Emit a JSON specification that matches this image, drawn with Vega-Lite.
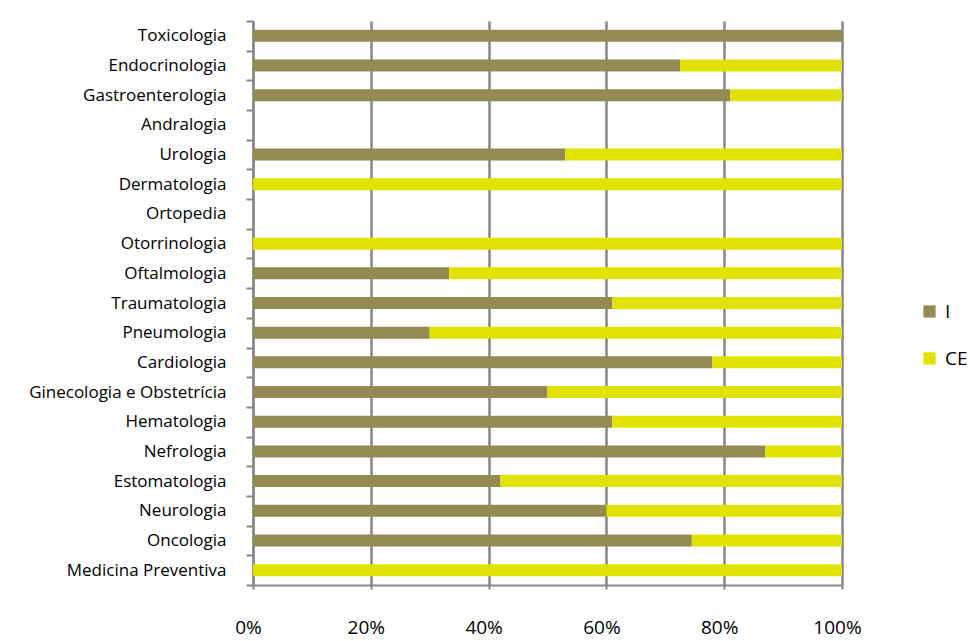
{
  "$schema": "https://vega.github.io/schema/vega-lite/v6.json",
  "autosize": "none",
  "width": 589,
  "height": 564,
  "padding": {"left": 253, "top": 21, "right": 128, "bottom": 56},
  "background": "white",
  "config": {"view": {"stroke": null}, "font": "Open Sans"},
  "data": {"values": [
    {"especialidade": "Toxicologia", "serie": "I", "valor": 1.0},
    {"especialidade": "Toxicologia", "serie": "CE", "valor": 0.0},
    {"especialidade": "Endocrinologia", "serie": "I", "valor": 0.725},
    {"especialidade": "Endocrinologia", "serie": "CE", "valor": 0.275},
    {"especialidade": "Gastroenterologia", "serie": "I", "valor": 0.81},
    {"especialidade": "Gastroenterologia", "serie": "CE", "valor": 0.19},
    {"especialidade": "Andralogia", "serie": "I", "valor": 0.0},
    {"especialidade": "Andralogia", "serie": "CE", "valor": 0.0},
    {"especialidade": "Urologia", "serie": "I", "valor": 0.53},
    {"especialidade": "Urologia", "serie": "CE", "valor": 0.47},
    {"especialidade": "Dermatologia", "serie": "I", "valor": 0.0},
    {"especialidade": "Dermatologia", "serie": "CE", "valor": 1.0},
    {"especialidade": "Ortopedia", "serie": "I", "valor": 0.0},
    {"especialidade": "Ortopedia", "serie": "CE", "valor": 0.0},
    {"especialidade": "Otorrinologia", "serie": "I", "valor": 0.0},
    {"especialidade": "Otorrinologia", "serie": "CE", "valor": 1.0},
    {"especialidade": "Oftalmologia", "serie": "I", "valor": 0.333},
    {"especialidade": "Oftalmologia", "serie": "CE", "valor": 0.667},
    {"especialidade": "Traumatologia", "serie": "I", "valor": 0.61},
    {"especialidade": "Traumatologia", "serie": "CE", "valor": 0.39},
    {"especialidade": "Pneumologia", "serie": "I", "valor": 0.30},
    {"especialidade": "Pneumologia", "serie": "CE", "valor": 0.70},
    {"especialidade": "Cardiologia", "serie": "I", "valor": 0.78},
    {"especialidade": "Cardiologia", "serie": "CE", "valor": 0.22},
    {"especialidade": "Ginecologia e Obstetrícia", "serie": "I", "valor": 0.50},
    {"especialidade": "Ginecologia e Obstetrícia", "serie": "CE", "valor": 0.50},
    {"especialidade": "Hematologia", "serie": "I", "valor": 0.61},
    {"especialidade": "Hematologia", "serie": "CE", "valor": 0.39},
    {"especialidade": "Nefrologia", "serie": "I", "valor": 0.87},
    {"especialidade": "Nefrologia", "serie": "CE", "valor": 0.13},
    {"especialidade": "Estomatologia", "serie": "I", "valor": 0.42},
    {"especialidade": "Estomatologia", "serie": "CE", "valor": 0.58},
    {"especialidade": "Neurologia", "serie": "I", "valor": 0.60},
    {"especialidade": "Neurologia", "serie": "CE", "valor": 0.40},
    {"especialidade": "Oncologia", "serie": "I", "valor": 0.745},
    {"especialidade": "Oncologia", "serie": "CE", "valor": 0.255},
    {"especialidade": "Medicina Preventiva", "serie": "I", "valor": 0.0},
    {"especialidade": "Medicina Preventiva", "serie": "CE", "valor": 1.0}
  ]},
  "mark": {"type": "bar", "size": 12, "cornerRadius": 0},
  "encoding": {
    "y": {
      "field": "especialidade", "type": "nominal", "sort": null,
      "scale": {"paddingInner": 0, "paddingOuter": 0},
      "axis": {
        "title": null, "labelFontSize": 17, "labelColor": "#000000",
        "labelPadding": 20, "labelLimit": 400, "tickBand": "extent", "tickSize": 7,
        "tickColor": "#868686", "tickWidth": 2, "domainColor": "#868686",
        "domainWidth": 2, "grid": false, "labelFont": "Open Sans"
      }
    },
    "x": {
      "field": "valor", "type": "quantitative", "stack": "zero",
      "scale": {"domain": [0, 1], "nice": false},
      "axis": {
        "title": null, "format": ".0%", "values": [0, 0.2, 0.4, 0.6, 0.8, 1],
        "labelFontSize": 19, "labelColor": "#000000", "labelPadding": 29,
        "labelOffset": -5, "labelFlush": false, "labelOverlap": false,
        "tickSize": 4, "tickColor": "#868686", "tickWidth": 2,
        "domainColor": "#868686", "domainWidth": 2,
        "grid": true, "gridColor": "#868686", "gridWidth": 2.5, "gridOpacity": 1,
        "labelFont": "Open Sans"
      }
    },
    "color": {
      "field": "serie", "type": "nominal",
      "scale": {"domain": ["I", "CE"], "range": ["#948A54", "#E2E200"]},
      "legend": {
        "title": null, "orient": "none", "legendX": 667, "legendY": 281,
        "symbolType": "square", "symbolSize": 150, "symbolStrokeWidth": 0,
        "labelFontSize": 19, "labelColor": "#000000", "rowPadding": 27,
        "labelOffset": 6, "labelFont": "Open Sans"
      }
    },
    "order": {"field": "serie", "sort": "descending"}
  }
}
